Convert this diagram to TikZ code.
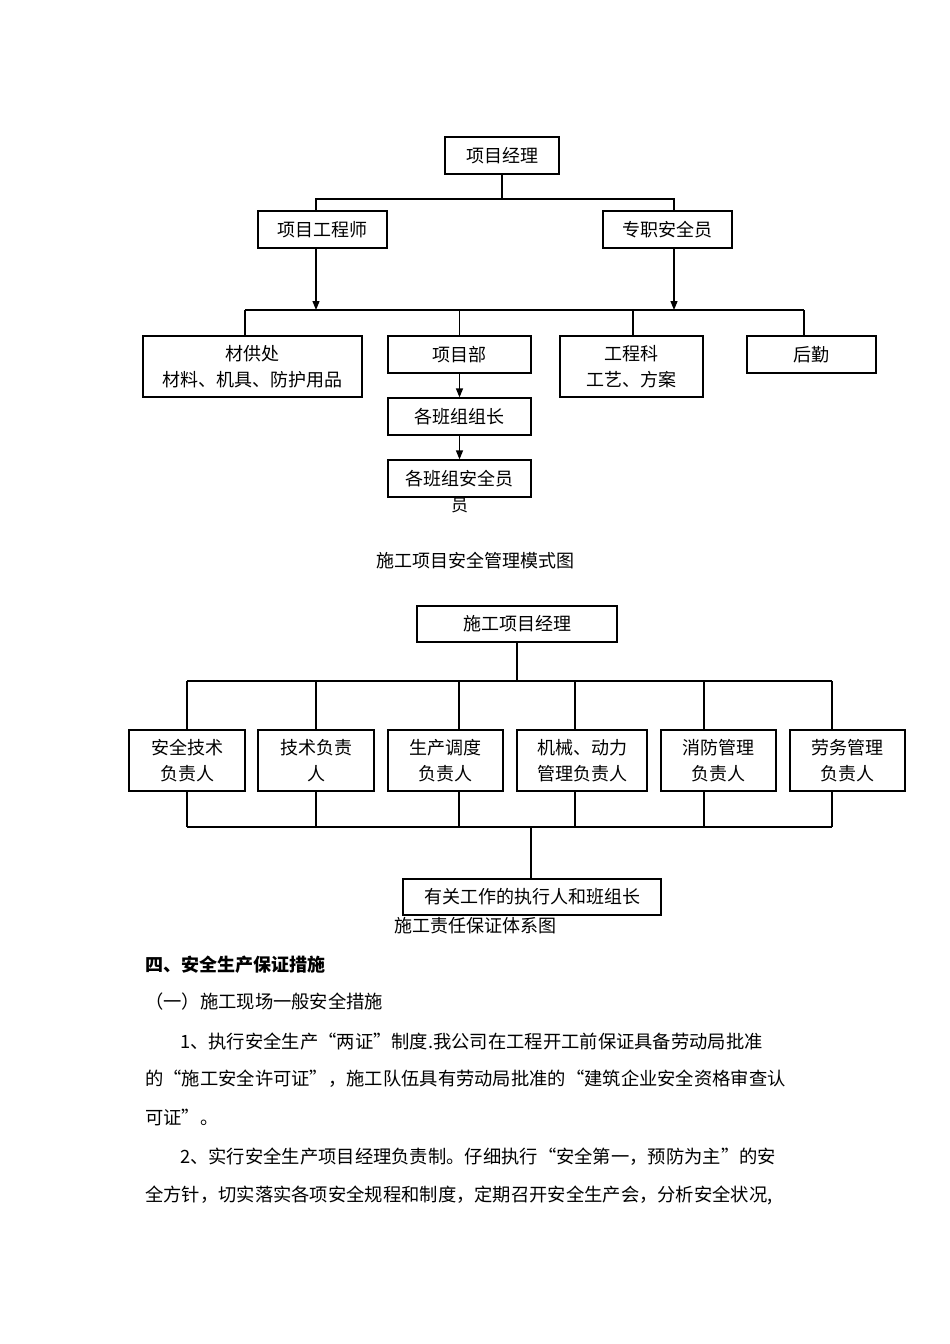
\documentclass[tikz,border=0pt]{standalone}
\usepackage{fontspec}
\setmainfont{Noto Sans CJK SC}
\usetikzlibrary{arrows.meta}
\XeTeXlinebreaklocale "zh"
\begin{document}
\begin{tikzpicture}[x=1pt,y=-1pt,
  bx/.style={draw,line width=1.2pt,inner sep=0pt,align=center,font=\fontsize{18}{26}\selectfont},
  ln/.style={line width=1.2pt},
  ar/.style={line width=1.2pt,-{Triangle[length=9pt,width=7pt]}},
  txt/.style={anchor=west,inner sep=0pt,font=\fontsize{18.3}{20}\selectfont}]
\useasboundingbox (0,0) rectangle (950,1344);
% ---- diagram 1
\node[bx,minimum width=114,minimum height=37] (pm) at (502,155.5) {项目经理};
\node[bx,minimum width=129,minimum height=37] (pe) at (322.5,229.5) {项目工程师};
\node[bx,minimum width=129,minimum height=37] (so) at (667.5,229.5) {专职安全员};
\node[bx,minimum width=219,minimum height=61] (mat) at (252.5,366.5) {材供处\\材料、机具、防护用品};
\node[bx,minimum width=143,minimum height=37] (xmb) at (459.5,354.5) {项目部};
\node[bx,minimum width=143,minimum height=61] (gck) at (631.5,366.5) {工程科\\工艺、方案};
\node[bx,minimum width=129,minimum height=37] (hq) at (811.5,354.5) {后勤};
\node[bx,minimum width=143,minimum height=37] (zz) at (459.5,416.5) {各班组组长};
\node[bx,minimum width=143,minimum height=37] (aq) at (459.5,478.5) {各班组安全员};
\node[font=\fontsize{17}{20}\selectfont,inner sep=0pt] (yu) at (459.5,505) {员};
\coordinate (b1l) at (245,310); \coordinate (b1r) at (804,310);
\draw[ln] (pm.south) -- (502,199) coordinate (t1);
\draw[ln] (pe.north -| 316,0) |- (t1) -| (so.north -| 674,0);
\draw[ar] (pe.south -| 316,0) -- (316,310);
\draw[ar] (so.south -| 674,0) -- (674,310);
\draw[ln] (b1l) -- (b1r);
\draw[ln] (b1l) -- (mat.north -| b1l);
\draw[ln] (459.5,310) -- (xmb.north);
\draw[ln] (633,310) -- (gck.north -| 633,0);
\draw[ln] (b1r) -- (hq.north -| b1r);
\draw[ar] (xmb.south) -- (zz.north);
\draw[ar] (zz.south) -- (aq.north);
\node[font=\fontsize{18}{20}\selectfont,inner sep=0pt] (cap1) at (475,561) {施工项目安全管理模式图};
% ---- diagram 2
\node[bx,minimum width=200,minimum height=36] (top) at (517,624) {施工项目经理};
\foreach \n/\cx/\w/\t in {a/187/116/{安全技术\\负责人},b/316/116/{技术负责\\人},c/445.5/115/{生产调度\\负责人},d/582/130/{机械、动力\\管理负责人},e/718.5/115/{消防管理\\负责人},f/847.5/115/{劳务管理\\负责人}}
  \node[bx,minimum width=\w,minimum height=61] (\n) at (\cx,760.5) {\t};
\node[bx,minimum width=258,minimum height=36] (exe) at (532,897) {有关工作的执行人和班组长};
\draw[ln] (top.south) -- (517,681);
\draw[ln] (187,681) -- (832,681);
\draw[ln] (187,827) -- (832,827);
\foreach \n/\x in {a/187,b/316,c/459,d/575,e/704,f/832}{
  \draw[ln] (\x,681) -- (\n.north -| \x,0);
  \draw[ln] (\n.south -| \x,0) -- (\x,827);
}
\draw[ln] (531,827) -- (exe.north -| 531,0);
\node[font=\fontsize{18}{20}\selectfont,inner sep=0pt] (cap2) at (475,926) {施工责任保证体系图};
% ---- text
\node[txt,font=\fontsize{18}{20}\selectfont\bfseries] (h4) at (145,965) {四、安全生产保证措施};
\node[txt] (h41) at (145,1002) {（一）施工现场一般安全措施};
\node[txt] (p1) at (180,1041) {1、执行安全生产“两证”制度.我公司在工程开工前保证具备劳动局批准};
\node[txt] (p2) at (145,1079) {的“施工安全许可证”，施工队伍具有劳动局批准的“建筑企业安全资格审查认};
\node[txt] (p3) at (145,1117) {可证”。};
\node[txt] (p4) at (180,1157) {2、实行安全生产项目经理负责制。仔细执行“安全第一，预防为主”的安};
\node[txt] (p5) at (145,1195) {全方针，切实落实各项安全规程和制度，定期召开安全生产会，分析安全状况,};
\end{tikzpicture}
\end{document}
